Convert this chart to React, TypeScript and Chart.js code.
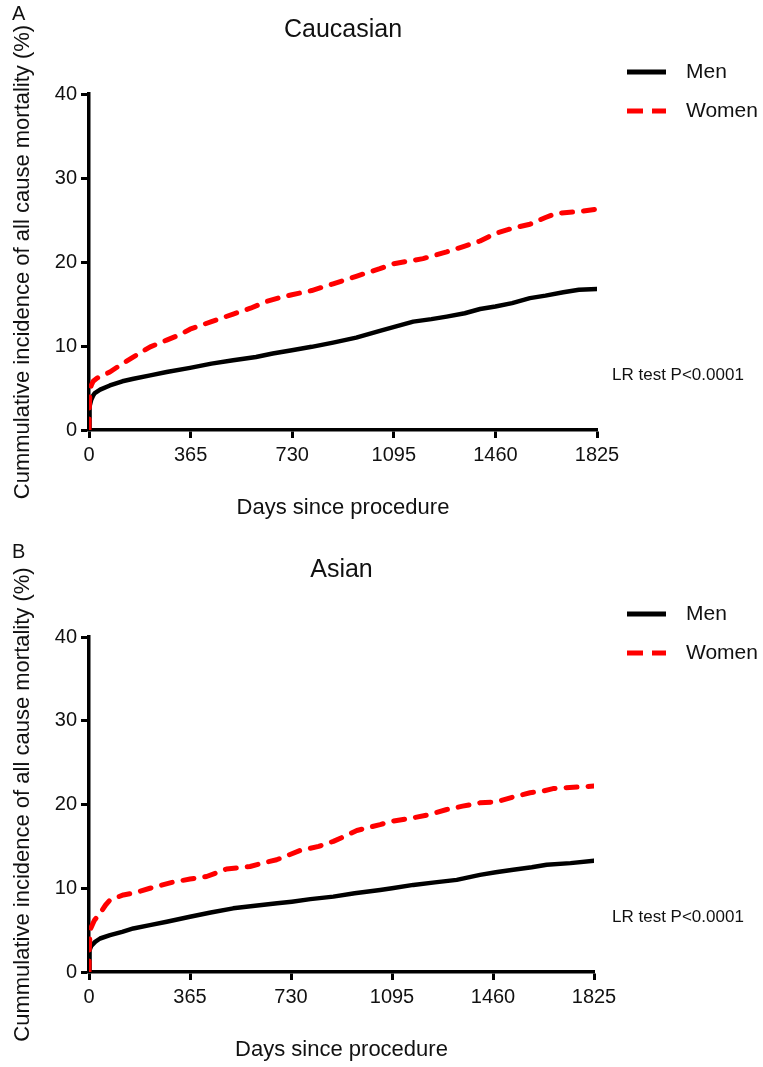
import React, { useEffect, useRef } from "react";
import { Chart, registerables } from "chart.js";

Chart.register(...registerables);

// ---------- data ----------
const X_TICKS = [0, 365, 730, 1095, 1460, 1825];
const Y_MIN = 0;
const Y_MAX = 40;
const Y_STEP = 10;

const SERIES_NAMES = ["Men", "Women"];

// Panel A: Caucasian
const CAU_MEN_DAYS = [0, 1, 3, 8, 15, 21, 40, 75, 120, 160, 220, 279, 363, 440, 518, 600, 660, 729, 800, 877, 960, 1045, 1100, 1165, 1230, 1285, 1350, 1405, 1460, 1520, 1584, 1640, 1704, 1760, 1825];
const CAU_MEN_VALS = [0, 2.0, 2.8, 3.6, 4.1, 4.4, 4.8, 5.3, 5.8, 6.1, 6.5, 6.9, 7.4, 7.9, 8.3, 8.7, 9.1, 9.5, 9.9, 10.4, 11.0, 11.8, 12.3, 12.9, 13.2, 13.5, 13.9, 14.4, 14.7, 15.1, 15.7, 16.0, 16.4, 16.7, 16.8];
const CAU_WOMEN_DAYS = [0, 1, 3, 8, 15, 30, 75, 120, 160, 220, 279, 330, 363, 440, 518, 580, 638, 700, 729, 800, 877, 960, 1045, 1095, 1165, 1200, 1285, 1350, 1405, 1460, 1520, 1584, 1640, 1680, 1760, 1825];
const CAU_WOMEN_VALS = [0, 2.5, 4.2, 5.3, 5.8, 6.2, 6.9, 7.9, 8.7, 9.9, 10.7, 11.4, 12.0, 12.9, 13.8, 14.5, 15.3, 15.9, 16.1, 16.6, 17.4, 18.3, 19.2, 19.8, 20.2, 20.4, 21.2, 21.9, 22.5, 23.4, 24.0, 24.5, 25.3, 25.8, 26.0, 26.3];

// Panel B: Asian
const ASI_MEN_DAYS = [0, 1, 3, 8, 22, 40, 76, 120, 160, 220, 281, 365, 440, 521, 600, 680, 733, 800, 883, 960, 1052, 1095, 1172, 1250, 1329, 1413, 1470, 1533, 1600, 1654, 1740, 1825];
const ASI_MEN_VALS = [0, 1.8, 2.6, 3.1, 3.6, 4.0, 4.4, 4.8, 5.2, 5.6, 6.0, 6.6, 7.1, 7.6, 7.9, 8.2, 8.4, 8.7, 9.0, 9.4, 9.8, 10.0, 10.4, 10.7, 11.0, 11.6, 11.9, 12.2, 12.5, 12.8, 13.0, 13.3];
const ASI_WOMEN_DAYS = [0, 1, 3, 6, 20, 40, 60, 76, 124, 170, 220, 300, 365, 425, 497, 582, 640, 678, 762, 830, 883, 930, 968, 1052, 1095, 1170, 1230, 1293, 1350, 1413, 1470, 1533, 1594, 1640, 1677, 1720, 1825];
const ASI_WOMEN_VALS = [0, 2.5, 4.2, 5.2, 6.2, 7.0, 8.0, 8.6, 9.2, 9.5, 10.0, 10.7, 11.1, 11.4, 12.3, 12.6, 13.1, 13.4, 14.5, 15.0, 15.6, 16.3, 16.9, 17.6, 18.0, 18.4, 18.8, 19.4, 19.8, 20.2, 20.3, 20.9, 21.4, 21.6, 21.9, 22.0, 22.2];

const X_TITLE = "Days since procedure";
const Y_TITLE = "Cummulative incidence of all cause mortality (%)";
const TEST_TEXT = "LR test P<0.0001";

// ---------- styling / layout ----------
const FAMILY = '"Liberation Sans", Arial, Helvetica, sans-serif';
const TEXT = "#111111";
const MEN_COLOR = "#000000";
const WOMEN_COLOR = "#ff0000";
const CANVAS_W = 763;
const CANVAS_H = 525;

type Panel = {
  letter: string;
  title: string;
  menDays: number[];
  menVals: number[];
  womenDays: number[];
  womenVals: number[];
  top: number;
  letterY: number;
  titlePadTop: number;
  titlePadBottom: number;
  rightPad: number;
};

const PANELS: Panel[] = [
  {
    letter: "A",
    title: "Caucasian",
    menDays: CAU_MEN_DAYS,
    menVals: CAU_MEN_VALS,
    womenDays: CAU_WOMEN_DAYS,
    womenVals: CAU_WOMEN_VALS,
    top: 0,
    letterY: 14,
    titlePadTop: 15,
    titlePadBottom: 49,
    rightPad: 166,
  },
  {
    letter: "B",
    title: "Asian",
    menDays: ASI_MEN_DAYS,
    menVals: ASI_MEN_VALS,
    womenDays: ASI_WOMEN_DAYS,
    womenVals: ASI_WOMEN_VALS,
    top: 542,
    letterY: 10,
    titlePadTop: 13,
    titlePadBottom: 52,
    rightPad: 169,
  },
];

const zip = (xs: number[], ys: number[]) => xs.map((x, i) => ({ x, y: ys[i] }));

function makeOverlay(panel: Panel) {
  return {
    id: "overlay",
    afterDraw(chart: any) {
      const ctx = chart.ctx as CanvasRenderingContext2D;
      ctx.save();
      ctx.fillStyle = TEXT;
      ctx.textAlign = "left";
      ctx.textBaseline = "middle";
      ctx.font = `20px ${FAMILY}`;
      ctx.fillText(panel.letter, 12, panel.letterY);

      // legend
      const lx0 = 627;
      const lx1 = 666;
      const rows = [72, 111];
      ctx.lineWidth = 5;
      ctx.lineCap = "butt";
      ctx.strokeStyle = MEN_COLOR;
      ctx.setLineDash([]);
      ctx.beginPath();
      ctx.moveTo(lx0, rows[0]);
      ctx.lineTo(lx1, rows[0]);
      ctx.stroke();
      ctx.strokeStyle = WOMEN_COLOR;
      ctx.setLineDash([16, 9]);
      ctx.beginPath();
      ctx.moveTo(lx0, rows[1]);
      ctx.lineTo(lx1, rows[1]);
      ctx.stroke();
      ctx.setLineDash([]);
      ctx.font = `21px ${FAMILY}`;
      ctx.fillText(SERIES_NAMES[0], 686, rows[0]);
      ctx.fillText(SERIES_NAMES[1], 686, rows[1]);

      ctx.font = `17px ${FAMILY}`;
      ctx.fillText(TEST_TEXT, 612, 375);
      ctx.restore();
    },
  };
}

function PanelChart({ panel }: { panel: Panel }) {
  const ref = useRef<HTMLCanvasElement | null>(null);
  useEffect(() => {
    if (!ref.current) return;
    const chart = new Chart(ref.current, {
      type: "line",
      data: {
        datasets: [
          {
            label: SERIES_NAMES[1],
            data: zip(panel.womenDays, panel.womenVals),
            borderColor: WOMEN_COLOR,
            backgroundColor: WOMEN_COLOR,
            borderWidth: 5,
            borderDash: [11, 11],
            borderCapStyle: "round",
            borderJoinStyle: "round",
            pointRadius: 0,
            tension: 0,
            order: 0,
          },
          {
            label: SERIES_NAMES[0],
            data: zip(panel.menDays, panel.menVals),
            borderColor: MEN_COLOR,
            backgroundColor: MEN_COLOR,
            borderWidth: 4.5,
            borderCapStyle: "round",
            borderJoinStyle: "round",
            pointRadius: 0,
            tension: 0,
            order: 1,
          },
        ],
      },
      options: {
        responsive: false,
        animation: false,
        events: [],
        layout: { padding: { left: 0, right: panel.rightPad, top: 0, bottom: 0 } },
        plugins: {
          legend: { display: false },
          tooltip: { enabled: false },
          title: {
            display: true,
            text: panel.title,
            fullSize: false,
            color: TEXT,
            font: { family: FAMILY, size: 25, weight: "normal" },
            padding: { top: panel.titlePadTop, bottom: panel.titlePadBottom },
          },
        },
        scales: {
          x: {
            type: "linear",
            min: X_TICKS[0],
            max: X_TICKS[X_TICKS.length - 1],
            afterBuildTicks: (s: any) => {
              s.ticks = X_TICKS.map((v) => ({ value: v }));
            },
            afterFit: (s: any) => {
              s.height = 95;
            },
            grid: {
              display: true,
              drawOnChartArea: false,
              drawTicks: true,
              tickLength: 8,
              tickWidth: 3,
              tickColor: "#000",
              color: "#000",
            },
            border: { display: true, color: "#000", width: 3.5 },
            ticks: {
              color: TEXT,
              padding: 5,
              maxRotation: 0,
              autoSkip: false,
              font: { family: FAMILY, size: 20 },
              callback: (v: any) => String(v),
            },
            title: {
              display: true,
              text: X_TITLE,
              color: TEXT,
              font: { family: FAMILY, size: 22 },
              padding: { top: 0, bottom: 3.8 },
            },
          },
          y: {
            type: "linear",
            min: Y_MIN,
            max: Y_MAX,
            afterFit: (s: any) => {
              s.width = 89;
            },
            grid: {
              display: true,
              drawOnChartArea: false,
              drawTicks: true,
              tickLength: 8,
              tickWidth: 3,
              tickColor: "#000",
              color: "#000",
            },
            border: { display: true, color: "#000", width: 3.5 },
            ticks: {
              stepSize: Y_STEP,
              color: TEXT,
              padding: 4,
              font: { family: FAMILY, size: 20 },
              callback: (v: any) => String(v),
            },
            title: {
              display: true,
              text: Y_TITLE,
              color: TEXT,
              font: { family: FAMILY, size: 22 },
              padding: { top: 9.3, bottom: 0 },
            },
          },
        },
      },
      plugins: [makeOverlay(panel)],
    } as any);
    return () => chart.destroy();
  }, [panel]);

  return (
    <canvas
      ref={ref}
      width={CANVAS_W}
      height={CANVAS_H}
      style={{ position: "absolute", left: 0, top: panel.top, width: CANVAS_W, height: CANVAS_H }}
    />
  );
}

export default function App() {
  return (
    <div style={{ position: "absolute", left: 0, top: 0, width: CANVAS_W, height: 1067, background: "#fff" }}>
      {PANELS.map((p) => (
        <PanelChart key={p.letter} panel={p} />
      ))}
    </div>
  );
}
